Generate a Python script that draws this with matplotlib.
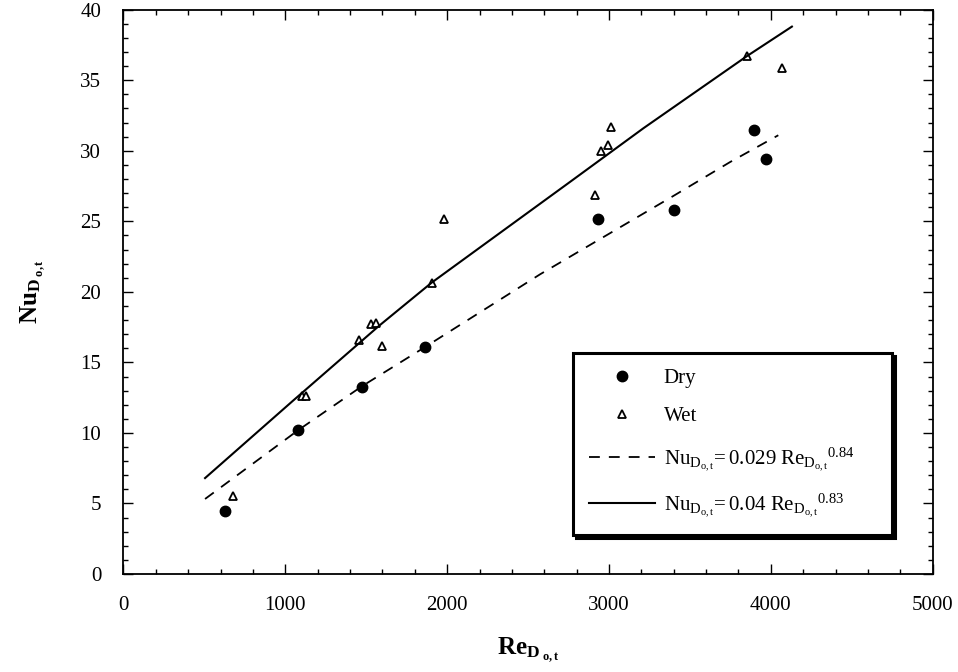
import matplotlib
matplotlib.use("Agg")
import matplotlib.pyplot as plt
from matplotlib.ticker import MultipleLocator

plt.rcParams['font.family'] = 'Liberation Serif'
plt.rcParams['mathtext.fontset'] = 'custom'
plt.rcParams['mathtext.rm'] = 'Liberation Serif'
plt.rcParams['mathtext.it'] = 'Liberation Serif:italic'
plt.rcParams['mathtext.bf'] = 'Liberation Serif:bold'

# measured points
dry_re = [627, 1080, 1472, 1865, 2935, 3400, 3896, 3972]
dry_nu = [4.47, 10.2, 13.23, 16.07, 25.15, 25.8, 31.44, 29.43]

wet_re = [675, 1105, 1125, 1455, 1530, 1560, 1598, 1905, 1981,
          2912, 2951, 2992, 3015, 3851, 4067]
wet_nu = [5.55, 12.6, 12.6, 16.6, 17.7, 17.77, 16.16, 20.66, 25.14,
          26.88, 30.0, 30.4, 31.68, 36.7, 35.9]

# correlation curves
dry_fit_re = [504, 1080, 1472, 1865, 2575, 3398, 3748, 4046]
dry_fit_nu = [5.32, 10.2, 13.3, 16.1, 21.25, 26.8, 29.2, 31.1]
wet_fit_re = [504, 1049, 1585, 1905, 2760, 3213, 3851, 4130]
wet_fit_nu = [6.8, 12.3, 17.65, 20.66, 27.8, 31.6, 36.7, 38.8]

dry_label = r'$\mathrm{Nu}_{\mathrm{D}_{\mathrm{o,t}}}\!= 0.029\ {\mathrm{Re}_{\mathrm{D}_{\mathrm{o,t}}}}^{0.84}$'
wet_label = r'$\mathrm{Nu}_{\mathrm{D}_{\mathrm{o,t}}}\!= 0.04\ {\mathrm{Re}_{\mathrm{D}_{\mathrm{o,t}}}}^{0.83}$'

fig = plt.figure(figsize=(9.58, 6.72), dpi=100)
ax = fig.add_axes([0.1289, 0.1458, 0.8447, 0.8398])

ax.plot(dry_re, dry_nu, 'o', color='black', markersize=7.5, label='Dry')
ax.plot(wet_re, wet_nu, '^', markerfacecolor='white', markeredgecolor='black',
        markeredgewidth=1.3, markersize=6, label='Wet')
ax.plot(dry_fit_re, dry_fit_nu, color='black', lw=1.3, dashes=(6, 5), label=dry_label)
ax.plot(wet_fit_re, wet_fit_nu, color='black', lw=1.5, label=wet_label)

ax.set_xlim(0, 5000)
ax.set_ylim(0, 40)
ax.xaxis.set_major_locator(MultipleLocator(1000))
ax.xaxis.set_minor_locator(MultipleLocator(200))
ax.yaxis.set_major_locator(MultipleLocator(5))
ax.yaxis.set_minor_locator(MultipleLocator(1))
ax.tick_params(which='both', direction='in', top=True, right=True, labelsize=15, pad=16)
ax.tick_params(which='major', length=7, width=1)
ax.tick_params(which='minor', length=3.5, width=1)
for s in ax.spines.values():
    s.set_linewidth(1.3)

ax.set_xlabel(r'$\mathbf{Re}_{\mathbf{D}_{\ \mathbf{o,t}}}$', fontsize=18, labelpad=14)
ax.set_ylabel(r'$\mathbf{Nu}_{\mathbf{D}_{\ \mathbf{o,t}}}$', fontsize=18, labelpad=24)

leg = ax.legend(loc='lower left', bbox_to_anchor=(0.5555, 0.0691, 0.394, 0.321),
                mode='expand', borderaxespad=0, fontsize=15, handlelength=3.2,
                handletextpad=0.4, labelspacing=0.9, borderpad=0.75,
                fancybox=False, shadow={'color': 'black', 'alpha': 1})
leg.get_frame().set_edgecolor('black')
leg.get_frame().set_linewidth(2.2)

fig.savefig('out.png', dpi=100)
